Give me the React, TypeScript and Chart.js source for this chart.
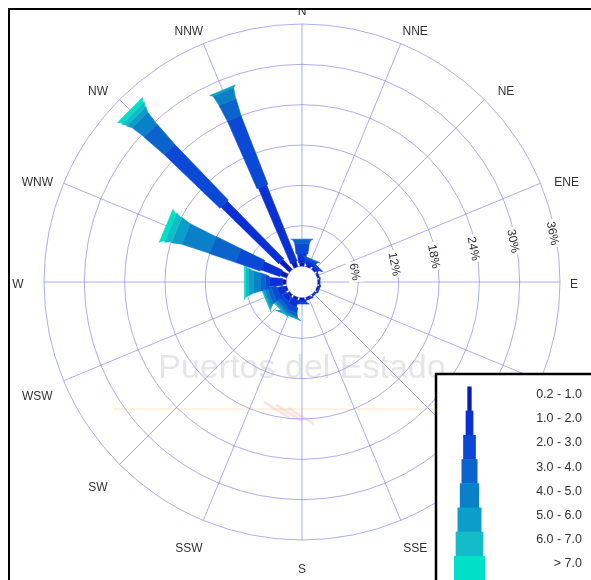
import React, { useEffect, useRef } from "react";
import { Chart, registerables } from "chart.js";

Chart.register(...registerables);

// ---- data ----
const directions = ["N", "NNE", "NE", "ENE", "E", "ESE", "SE", "SSE", "S", "SSW", "SW", "WSW", "W", "WNW", "NW", "NNW"];
const speedClasses = ["0.2 - 1.0", "1.0 - 2.0", "2.0 - 3.0", "3.0 - 4.0", "4.0 - 5.0", "5.0 - 6.0", "6.0 - 7.0", "> 7.0"];
const ringTicks = [6, 12, 18, 24, 30, 36];
const ringLabels = ["6%", "12%", "18%", "24%", "30%", "36%"];
// frequency (%) per direction for every speed class
//                 N    NNE  NE   ENE  E    ESE  SE   SSE  S    SSW  SW   WSW  W    WNW  NW    NNW
const class1 = [0.5, 0.3, 0.3, 0.2, 0.2, 0.2, 0.2, 0.2, 0.3, 0.4, 0.3, 0.4, 0.5, 1.0, 2.0, 0.8];
const class2 = [1.3, 0.5, 0.4, 0.1, 0.1, 0.2, 0.1, 0.2, 0.4, 1.0, 0.8, 1.0, 2.0, 3.0, 12.0, 12.2];
const class3 = [1.6, 0.4, 0.2, 0.0, 0.0, 0.0, 0.0, 0.0, 0.2, 0.8, 0.6, 0.8, 0.5, 3.9, 11.5, 11.0];
const class4 = [0.5, 0.1, 0.0, 0.0, 0.0, 0.0, 0.0, 0.0, 0.0, 0.5, 0.5, 0.6, 0.8, 4.1, 4.0, 2.6];
const class5 = [0.1, 0.0, 0.0, 0.0, 0.0, 0.0, 0.0, 0.0, 0.0, 0.2, 0.3, 0.4, 1.0, 4.3, 2.2, 1.6];
const class6 = [0.0, 0.0, 0.0, 0.0, 0.0, 0.0, 0.0, 0.0, 0.0, 0.1, 0.2, 0.3, 0.8, 1.5, 0.8, 0.3];
const class7 = [0.0, 0.0, 0.0, 0.0, 0.0, 0.0, 0.0, 0.0, 0.0, 0.0, 0.1, 0.1, 0.4, 1.0, 0.7, 0.0];
const class8 = [0.0, 0.0, 0.0, 0.0, 0.0, 0.0, 0.0, 0.0, 0.0, 0.0, 0.0, 0.0, 0.2, 0.7, 0.6, 0.0];
const classData = [class1, class2, class3, class4, class5, class6, class7, class8];

// ---- styles ----
const classColors = ["#0a1ab4", "#0a30d4", "#0a48d6", "#0a64cc", "#0a80c8", "#0a9ec8", "#12bcc8", "#00e0c8"];
const legendWidths = [4.3, 7.7, 12.7, 16, 19.3, 24, 27.7, 31];
const petalScale = 1.15;
const gridColor = "rgba(125,125,228,0.62)";
const textColor = "#333333";
const FONT = "'Liberation Sans', Arial, sans-serif";

const rosePlugin = {
  id: "rose",
  beforeDraw(chart: any) {
    const ctx = chart.ctx;
    ctx.save();
    ctx.fillStyle = "#ffffff";
    ctx.fillRect(0, 0, chart.width, chart.height);
    // watermark
    ctx.fillStyle = "#e6e6e6";
    ctx.font = `34px ${FONT}`;
    ctx.textAlign = "center";
    ctx.textBaseline = "middle";
    ctx.fillText("Puertos del Estado", 302, 369);
    ctx.strokeStyle = "rgba(250,215,140,0.4)";
    ctx.lineWidth = 1.5;
    ctx.beginPath();
    ctx.moveTo(113, 409);
    ctx.lineTo(436, 409);
    ctx.stroke();
    ctx.strokeStyle = "rgba(235,130,130,0.22)";
    ctx.lineWidth = 3;
    for (let j = 0; j < 3; j++) {
      ctx.beginPath();
      ctx.moveTo(264 + j * 12, 402 + j * 3);
      ctx.lineTo(290 + j * 12, 418 + j * 3);
      ctx.stroke();
    }
    ctx.restore();
  },
  beforeDatasetsDraw(chart: any) {
    const ctx = chart.ctx;
    const s = chart.scales.r;
    const r0 = s.getDistanceFromCenterForValue(0);
    ctx.save();
    ctx.beginPath();
    ctx.arc(s.xCenter, s.yCenter, r0, 0, Math.PI * 2);
    ctx.fillStyle = "#ffffff";
    ctx.fill();
    ctx.strokeStyle = gridColor;
    ctx.lineWidth = 1;
    ctx.stroke();
    ctx.restore();
  },
  afterDatasetsDraw(chart: any) {
    const ctx = chart.ctx;
    const s = chart.scales.r;
    const datasets = chart.data.datasets;
    const n = chart.data.labels.length;
    ctx.save();

    // ring labels
    const labAng = (-11 * Math.PI) / 180;
    ctx.font = `12px ${FONT}`;
    ctx.textAlign = "center";
    ctx.textBaseline = "middle";
    ringTicks.forEach((v, j) => {
      const d = s.getDistanceFromCenterForValue(v) - 3;
      const x = s.xCenter + d * Math.cos(labAng);
      const y = s.yCenter + d * Math.sin(labAng);
      ctx.save();
      ctx.translate(x, y);
      ctx.rotate(Math.PI / 2 + labAng);
      const w = ctx.measureText(ringLabels[j]).width;
      ctx.fillStyle = "#ffffff";
      ctx.fillRect(-w / 2 - 2, -7, w + 4, 14);
      ctx.fillStyle = textColor;
      ctx.fillText(ringLabels[j], 0, 0);
      ctx.restore();
    });

    // petals
    for (let i = 0; i < n; i++) {
      const ang = s.getIndexAngle(i) - Math.PI / 2;
      const nx = -Math.sin(ang);
      const ny = Math.cos(ang);
      let cum = 0;
      datasets.forEach((ds: any, k: number) => {
        const v = ds.data[i];
        if (!v) return;
        const a = cum;
        const b = cum + v;
        cum = b;
        const p0 = s.getPointPosition(i, s.getDistanceFromCenterForValue(a));
        const p1 = s.getPointPosition(i, s.getDistanceFromCenterForValue(b));
        const w0 = (legendWidths[k] * petalScale * 0.8) / 2;
        const w1 = (legendWidths[k] * petalScale) / 2;
        ctx.beginPath();
        ctx.moveTo(p0.x + nx * w0, p0.y + ny * w0);
        ctx.lineTo(p1.x + nx * w1, p1.y + ny * w1);
        ctx.lineTo(p1.x - nx * w1, p1.y - ny * w1);
        ctx.lineTo(p0.x - nx * w0, p0.y - ny * w0);
        ctx.closePath();
        ctx.fillStyle = ds.borderColor;
        ctx.fill();
        ctx.lineWidth = 0.6;
        ctx.strokeStyle = ds.borderColor;
        ctx.stroke();
      });
    }

    // compass labels
    ctx.font = `12px ${FONT}`;
    ctx.fillStyle = textColor;
    ctx.textAlign = "center";
    ctx.textBaseline = "middle";
    const outer = s.getDistanceFromCenterForValue(s.max);
    chart.data.labels.forEach((lab: string, i: number) => {
      const p = s.getPointPosition(i, outer + 22);
      const ang = s.getIndexAngle(i) - Math.PI / 2;
      const c = Math.cos(ang);
      const sn = Math.sin(ang);
      let x = p.x + (Math.abs(c) > 0.1 && Math.abs(c) < 0.95 ? 6 * Math.sign(c) : 0);
      let y = p.y + (Math.abs(sn) > 0.1 ? 8 : 3);
      if (Math.abs(c) > 0.95 && c > 0) x -= 8;
      if (Math.abs(c) > 0.95 && c < 0) x -= 4;
      y = Math.max(y, 12);
      ctx.fillText(lab, x, y);
    });

    // legend
    const lx = 436;
    const ly = 374;
    ctx.fillStyle = "#ffffff";
    ctx.fillRect(lx, ly, chart.width, chart.height);
    ctx.strokeStyle = "#000000";
    ctx.lineWidth = 2.5;
    ctx.strokeRect(lx, ly, chart.width * 2, chart.height * 2);
    const iconX = 469.5;
    const rowH = 24.2;
    const top0 = 386.5;
    ctx.font = `12.5px ${FONT}`;
    ctx.textAlign = "right";
    ctx.textBaseline = "middle";
    datasets.forEach((ds: any, k: number) => {
      const yTop = top0 + rowH * k;
      const w = legendWidths[k];
      ctx.fillStyle = ds.borderColor;
      ctx.fillRect(iconX - w / 2, yTop, w, rowH + 0.5);
      ctx.fillStyle = textColor;
      ctx.fillText(ds.label, 582, yTop + 8);
    });

    // outer frame
    ctx.fillStyle = "#ffffff";
    ctx.fillRect(0, 0, chart.width, 8);
    ctx.fillRect(0, 0, 8, chart.height);
    ctx.strokeStyle = "#000000";
    ctx.lineWidth = 2;
    ctx.strokeRect(9, 9, chart.width * 2, chart.height * 2);
    ctx.restore();
  },
};

export default function App() {
  const ref = useRef<HTMLCanvasElement>(null);
  useEffect(() => {
    const chart = new Chart(ref.current as HTMLCanvasElement, {
      type: "radar",
      data: {
        labels: directions,
        datasets: classData.map((d, k) => ({
          label: speedClasses[k],
          data: d,
          borderColor: classColors[k],
          backgroundColor: "transparent",
          borderWidth: 0,
          pointRadius: 0,
          pointHoverRadius: 0,
          fill: false,
          showLine: false,
        })),
      },
      options: {
        responsive: false,
        devicePixelRatio: 1,
        animation: false,
        layout: { padding: { left: 44, right: 30, top: 24, bottom: 39 } },
        plugins: { legend: { display: false }, tooltip: { enabled: false } },
        scales: {
          r: {
            min: -2.38,
            max: 36,
            startAngle: 0,
            ticks: { display: false, stepSize: 6 },
            pointLabels: { display: false },
            grid: { circular: true, color: gridColor, lineWidth: 1 },
            angleLines: { display: true, color: gridColor, lineWidth: 1 },
          },
        },
      } as any,
      plugins: [rosePlugin],
    });
    return () => chart.destroy();
  }, []);
  return (
    <div style={{ position: "fixed", left: 0, top: 0, width: 591, height: 580, background: "#fff" }}>
      <canvas ref={ref} width={591} height={580} style={{ display: "block", width: 591, height: 580 }} />
    </div>
  );
}
